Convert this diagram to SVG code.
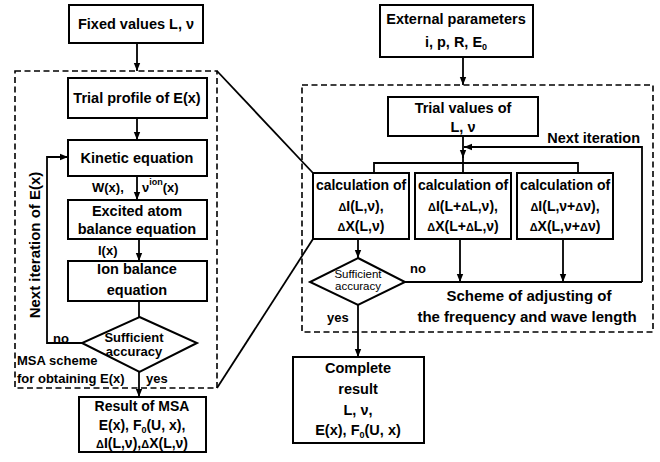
<svg xmlns="http://www.w3.org/2000/svg" width="660" height="462" viewBox="0 0 660 462">
<defs>
<marker id="ah" viewBox="0 0 10 10" refX="10" refY="5" markerWidth="8" markerHeight="8" markerUnits="userSpaceOnUse" orient="auto">
<path d="M0,1 L10,5 L0,9 Z" fill="#000"/>
</marker>
<style>
.box{fill:#fff;stroke:#000;stroke-width:2}
.dash{fill:none;stroke:#000;stroke-width:1.6;stroke-dasharray:6,3.5}
.ln{fill:none;stroke:#000;stroke-width:1.8}
.arr{fill:none;stroke:#000;stroke-width:1.8;marker-end:url(#ah)}
text{font-family:"Liberation Sans",Arial,sans-serif;font-weight:bold;font-size:14.5px;fill:#000}
.c{text-anchor:middle}
.s{font-size:13px}
.d{font-size:11.5px;font-weight:normal}
.sub{font-size:9px}
.dl{font-size:11px}
</style>
</defs>
<rect width="660" height="462" fill="#fff"/>

<g id="connectors">
<path class="arr" d="M137,43 V71"/>
<path class="arr" d="M137,118 V140"/>
<path class="arr" d="M137,176 V200"/>
<path class="arr" d="M139,239 V261"/>
<path class="ln" d="M139,301 V317"/>
<path class="arr" d="M82,343 H47 V157 H68"/>
<path class="arr" d="M139,372 V397"/>
<path class="ln" d="M217,71 L313,173"/>
<path class="ln" d="M217,388 L313,239"/>
<path class="arr" d="M463,57 V85"/>
<path class="arr" d="M463,136 V158"/>
<path class="ln" d="M463,156 V173"/>
<path class="ln" d="M374,173 V163 H578 V173"/>
<path class="arr" d="M642,282 V147 H464"/>
<path class="arr" d="M358,239 V258"/>
<path class="ln" d="M405,282 H642"/>
<path class="arr" d="M460,239 V282"/>
<path class="arr" d="M563,239 V282"/>
<path class="arr" d="M358,305 V357"/>
</g>

<g id="msa-scheme">
<rect class="dash" x="15" y="71" width="202" height="317"/>
<text x="17" y="365" class="s">MSA scheme</text>
<text x="17" y="383" class="s">for obtaining E(x)</text>
<text transform="translate(40,245) rotate(-90)" class="c" style="font-size:15px">Next iteration of E(x)</text>
<text x="53" y="343" class="s">no</text>
<text x="146" y="383" class="s">yes</text>
<text x="92" y="192" class="s">W(x),</text>
<text x="142" y="192" class="s">ν<tspan class="sub" dy="-7">ion</tspan><tspan dy="7">(x)</tspan></text>
<text x="98" y="255" class="s">I(x)</text>
</g>

<g id="fixed-values">
<rect class="box" x="69" y="5" width="134" height="38"/>
<text x="136" y="29" class="c">Fixed values L, ν</text>
</g>

<g id="trial-profile">
<rect class="box" x="68" y="78" width="139" height="40"/>
<text x="137" y="103" class="c">Trial profile of E(x)</text>
</g>

<g id="kinetic">
<rect class="box" x="68" y="140" width="139" height="36"/>
<text x="137" y="163" class="c">Kinetic equation</text>
</g>

<g id="excited">
<rect class="box" x="68" y="200" width="139" height="39"/>
<text x="137" y="216" class="c">Excited atom</text>
<text x="137" y="234" class="c">balance equation</text>
</g>

<g id="ion-balance">
<rect class="box" x="68" y="261" width="139" height="40"/>
<text x="137" y="274" class="c">Ion balance</text>
<text x="137" y="295" class="c">equation</text>
</g>

<g id="accuracy-left">
<polygon class="box" points="139.5,317 197,343 139.5,372 82,343"/>
<text x="134" y="342" class="c s">Sufficient</text>
<text x="134" y="356" class="c s">accuracy</text>
</g>

<g id="result-msa">
<rect class="box" x="79" y="397" width="127" height="55"/>
<text x="142" y="411" class="c" style="font-size:14px">Result of MSA</text>
<text x="142" y="430" class="c" style="font-size:14px">E(x), F<tspan class="sub" dy="3">0</tspan><tspan dy="-3">(U, x),</tspan></text>
<text x="142" y="448" class="c" style="font-size:14px"><tspan class="dl">Δ</tspan>I(L,ν),<tspan class="dl">Δ</tspan>X(L,ν)</text>
</g>

<g id="external">
<rect class="box" x="380" y="5" width="153" height="52"/>
<text x="456" y="24" class="c">External parameters</text>
<text x="456" y="47" class="c">i, p, R, E<tspan class="sub" dy="3">0</tspan></text>
</g>

<g id="adjust-scheme">
<rect class="dash" x="302" y="85" width="351" height="247"/>
<text x="640" y="143" style="text-anchor:end">Next iteration</text>
<text x="410" y="273" class="s">no</text>
<text x="327" y="322" class="s">yes</text>
<text x="529" y="301" class="c" style="font-size:15px">Scheme of adjusting of</text>
<text x="527" y="322" class="c" style="font-size:15px">the frequency and wave length</text>
</g>

<g id="trial-values">
<rect class="box" x="388" y="97" width="150" height="39"/>
<text x="463" y="113" class="c">Trial values of</text>
<text x="463" y="132" class="c">L, ν</text>
</g>

<g id="calc1">
<rect class="box" x="313" y="173" width="96" height="66"/>
<text x="361" y="190" class="c" style="font-size:14px">calculation of</text>
<text x="361" y="211" class="c" style="font-size:14px"><tspan class="dl">Δ</tspan>I(L,ν),</text>
<text x="361" y="231" class="c" style="font-size:14px"><tspan class="dl">Δ</tspan>X(L,ν)</text>
</g>

<g id="calc2">
<rect class="box" x="415" y="173" width="96" height="66"/>
<text x="463" y="190" class="c" style="font-size:14px">calculation of</text>
<text x="463" y="211" class="c" style="font-size:14px"><tspan class="dl">Δ</tspan>I(L+<tspan class="dl">Δ</tspan>L,ν),</text>
<text x="463" y="231" class="c" style="font-size:14px"><tspan class="dl">Δ</tspan>X(L+<tspan class="dl">Δ</tspan>L,ν)</text>
</g>

<g id="calc3">
<rect class="box" x="517" y="173" width="96" height="66"/>
<text x="565" y="190" class="c" style="font-size:14px">calculation of</text>
<text x="565" y="211" class="c" style="font-size:14px"><tspan class="dl">Δ</tspan>I(L,ν+<tspan class="dl">Δ</tspan>ν),</text>
<text x="565" y="231" class="c" style="font-size:14px"><tspan class="dl">Δ</tspan>X(L,ν+<tspan class="dl">Δ</tspan>ν)</text>
</g>

<g id="accuracy-right">
<polygon class="box" points="358,258 405,282 358,305 310,282"/>
<text x="358" y="278" class="c d">Sufficient</text>
<text x="358" y="290" class="c d">accuracy</text>
</g>

<g id="complete-result">
<rect class="box" x="293" y="357" width="131" height="86"/>
<text x="358" y="373" class="c">Complete</text>
<text x="358" y="394" class="c">result</text>
<text x="358" y="415" class="c">L, ν,</text>
<text x="358" y="435" class="c">E(x), F<tspan class="sub" dy="3">0</tspan><tspan dy="-3">(U, x)</tspan></text>
</g>
</svg>
